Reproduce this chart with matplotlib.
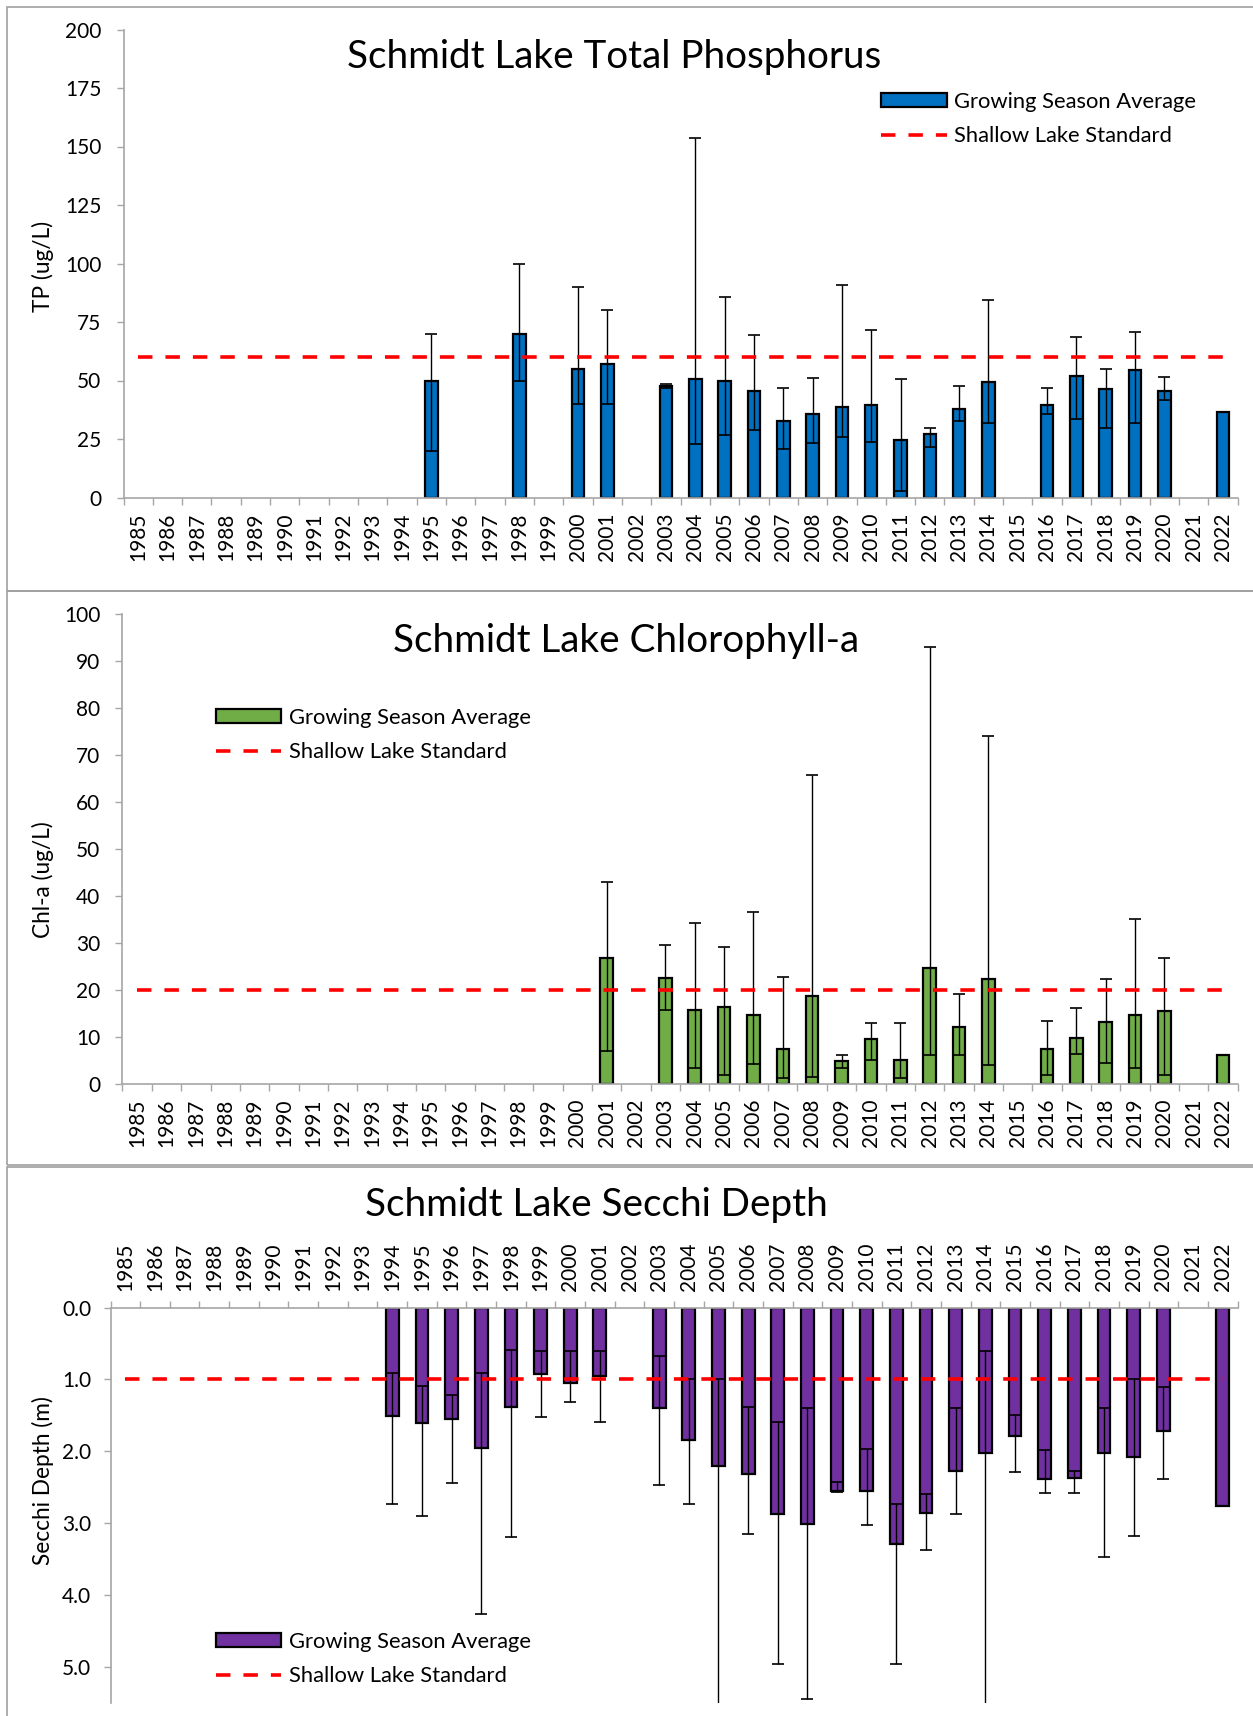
import numpy as np
import matplotlib
matplotlib.use("Agg")
import matplotlib.pyplot as plt
from matplotlib.patches import Rectangle, Patch
from matplotlib.lines import Line2D

plt.rcParams['font.family'] = ['Lato', 'DejaVu Sans']

W, H = 1253, 1716

# categories on every chart
years = list(range(1985, 2023))

# total phosphorus (ug/L), growing season mean with min / max
tp_years = [1995, 1998, 2000, 2001, 2003, 2004, 2005, 2006, 2007, 2008, 2009,
            2010, 2011, 2012, 2013, 2014, 2016, 2017, 2018, 2019, 2020, 2022]
tp_mean = [50, 70, 55, 57.2, 47.5, 50.5, 49.7, 45.5, 32.7, 35.8, 38.5,
           39.5, 24.7, 27.1, 37.8, 49.2, 39.5, 52.1, 46.4, 54.4, 45.5, 36.7]
tp_min = [20, 50, 40, 40, 47, 22.8, 26.8, 28.7, 20.7, 23.5, 25.7,
          23.8, 2.9, 21.7, 32.8, 31.8, 35.7, 33.7, 29.7, 31.7, 41.8, np.nan]
tp_max = [70, 100, 90, 80, 48.5, 153.5, 85.6, 69.6, 46.8, 51.1, 90.8,
          71.6, 50.8, 29.8, 47.8, 84.6, 46.8, 68.6, 54.8, 70.8, 51.7, np.nan]
tp_std = 60

# chlorophyll-a (ug/L)
chl_years = [2001, 2003, 2004, 2005, 2006, 2007, 2008, 2009, 2010, 2011,
             2012, 2013, 2014, 2016, 2017, 2018, 2019, 2020, 2022]
chl_mean = [26.8, 22.5, 15.7, 16.3, 14.5, 7.4, 18.7, 4.8, 9.4, 5.0,
            24.6, 12.1, 22.2, 7.4, 9.8, 13.1, 14.6, 15.4, 6.0]
chl_min = [6.9, 15.6, 3.3, 1.8, 4.1, 1.1, 1.4, 3.3, 5.0, 1.2,
           6.0, 6.0, 3.9, 1.8, 6.2, 4.4, 3.3, 1.8, np.nan]
chl_max = [43.0, 29.6, 34.1, 29.0, 36.6, 22.6, 65.7, 6.1, 12.9, 12.9,
           93.0, 19.0, 74.0, 13.4, 16.0, 22.2, 35.0, 26.7, np.nan]
chl_std = 20

# secchi depth (m)
sd_years = [1994, 1995, 1996, 1997, 1998, 1999, 2000, 2001, 2003, 2004,
            2005, 2006, 2007, 2008, 2009, 2010, 2011, 2012, 2013, 2014,
            2015, 2016, 2017, 2018, 2019, 2020, 2022]
sd_mean = [1.51, 1.61, 1.55, 1.96, 1.38, 0.93, 1.05, 0.95, 1.40, 1.84,
           2.20, 2.32, 2.88, 3.01, 2.56, 2.55, 3.29, 2.86, 2.27, 2.03,
           1.79, 2.39, 2.38, 2.02, 2.08, 1.72, 2.77]
sd_min = [0.91, 1.09, 1.22, 0.91, 0.59, 0.61, 0.61, 0.61, 0.68, 1.0,
          1.0, 1.38, 1.60, 1.40, 2.43, 1.97, 2.74, 2.59, 1.40, 0.60,
          1.49, 1.99, 2.27, 1.40, 1.0, 1.10, np.nan]
sd_max = [2.74, 2.90, 2.44, 4.27, 3.20, 1.52, 1.31, 1.60, 2.47, 2.74,
          6.0, 3.16, 4.96, 5.45, 2.57, 3.03, 4.96, 3.38, 2.88, 6.0,
          2.29, 2.58, 2.58, 3.48, 3.18, 2.39, np.nan]
sd_std = 1.0

AXIS_GREY = '#A6A6A6'
TICK_FS = 15
TITLE_FS = 27.8
YLAB_FS = 16.3


def px_axes(fig, left, top, right, bottom):
    # pixel box (from top-left) -> figure fraction
    return fig.add_axes([left / W, 1 - bottom / H, (right - left) / W, (bottom - top) / H])


def draw_panel(ax, yrs, mean, lo, hi, color, std):
    pos = np.array([years.index(y) for y in yrs])
    mean = np.array(mean, dtype=float)
    lo = np.array(lo, dtype=float)
    hi = np.array(hi, dtype=float)
    ax.bar(pos, mean, width=0.43, color=color, edgecolor='black', linewidth=1.6, zorder=2)
    ok = ~np.isnan(lo)
    ax.errorbar(pos[ok], mean[ok], yerr=[mean[ok] - lo[ok], hi[ok] - mean[ok]],
                fmt='none', ecolor='black', elinewidth=1, capsize=4.2, capthick=1.2, zorder=3)
    ax.plot([0, len(years) - 1], [std, std], color='red', lw=2.6, dashes=(4, 3.6), zorder=4)

    ax.set_xlim(-0.5, len(years) - 0.5)
    ax.set_xticks(range(len(years)))
    ax.set_xticklabels([str(y) for y in years], rotation=90, fontsize=TICK_FS)
    ax.set_xticks(np.arange(-0.5, len(years), 1), minor=True)
    ax.tick_params(axis='x', which='major', length=0)
    ax.tick_params(axis='x', which='minor', length=5, color=AXIS_GREY, width=1)
    ax.tick_params(axis='y', length=5, color=AXIS_GREY, width=1, labelsize=TICK_FS, pad=11)
    for s in ('top', 'right'):
        ax.spines[s].set_visible(False)
    for s in ('left', 'bottom', 'top'):
        ax.spines[s].set_color(AXIS_GREY)
        ax.spines[s].set_linewidth(1.2)


def add_legend(fig, ax, color, x, y):
    handles = [Patch(facecolor=color, edgecolor='black', linewidth=1.6),
               Line2D([], [], color='red', lw=2.6, dashes=(4, 3.6))]
    ax.legend(handles, ['Growing Season Average', 'Shallow Lake Standard'],
              loc='upper left', bbox_to_anchor=(x / W, 1 - y / H), bbox_transform=fig.transFigure,
              frameon=False, fontsize=15.8, borderpad=0, borderaxespad=0,
              handlelength=3.0, handleheight=0.6, handletextpad=0.33, labelspacing=0.64)


fig = plt.figure(figsize=(W / 100, H / 100), dpi=100)

# grey chart frames
for top, bot in [(7, 591), (591, 1165), (1167, H + 5)]:
    fig.add_artist(Rectangle((7 / W, 1 - bot / H), 1.1, (bot - top) / H,
                             transform=fig.transFigure, fill=False,
                             edgecolor='#A0A0A0', linewidth=1.2))

# Total phosphorus
ax1 = px_axes(fig, 123.5, 29.5, 1237.7, 497.5)
draw_panel(ax1, tp_years, tp_mean, tp_min, tp_max, '#0070C0', tp_std)
ax1.set_ylim(0, 200)
ax1.set_yticks(np.arange(0, 201, 25))
ax1.tick_params(axis='x', pad=11)
fig.text(614 / W, 1 - 57 / H, 'Schmidt Lake Total Phosphorus', fontsize=TITLE_FS, ha='center', va='center')
fig.text(43 / W, 1 - 266 / H, 'TP (ug/L)', fontsize=YLAB_FS, rotation=90, ha='center', va='center')
add_legend(fig, ax1, '#0070C0', 881, 92)

# Chlorophyll-a
ax2 = px_axes(fig, 122.5, 614.2, 1237.7, 1083.5)
draw_panel(ax2, chl_years, chl_mean, chl_min, chl_max, '#70AD47', chl_std)
ax2.set_ylim(0, 100)
ax2.set_yticks(np.arange(0, 101, 10))
ax2.tick_params(axis='x', pad=11)
fig.text(626.5 / W, 1 - 641 / H, 'Schmidt Lake Chlorophyll-a', fontsize=TITLE_FS, ha='center', va='center')
fig.text(43 / W, 1 - 880 / H, 'Chl-a (ug/L)', fontsize=YLAB_FS, rotation=90, ha='center', va='center')
add_legend(fig, ax2, '#70AD47', 215.6, 708)

# Secchi depth, axis on top, depth downward
ax3 = px_axes(fig, 110.5, 1307.5, 1237.5, 1702.5)
draw_panel(ax3, sd_years, sd_mean, sd_min, sd_max, '#7030A0', sd_std)
ax3.set_ylim(5.5, 0)
ax3.set_yticks(np.arange(0, 5.1, 1.0))
ax3.set_yticklabels(['%.1f' % v for v in np.arange(0, 5.1, 1.0)])
ax3.xaxis.tick_top()
ax3.spines['top'].set_visible(True)
ax3.spines['bottom'].set_visible(False)
ax3.tick_params(axis='x', which='both', top=True, bottom=False, labeltop=True, labelbottom=False)
ax3.tick_params(axis='x', which='major', pad=12)
ax3.tick_params(axis='y', pad=9)
fig.text(596.4 / W, 1 - 1205 / H, 'Schmidt Lake Secchi Depth', fontsize=TITLE_FS, ha='center', va='center')
fig.text(43 / W, 1 - 1481 / H, 'Secchi Depth (m)', fontsize=YLAB_FS, rotation=90, ha='center', va='center')
add_legend(fig, ax3, '#7030A0', 215.6, 1632)

fig.savefig('out.png', dpi=100)
